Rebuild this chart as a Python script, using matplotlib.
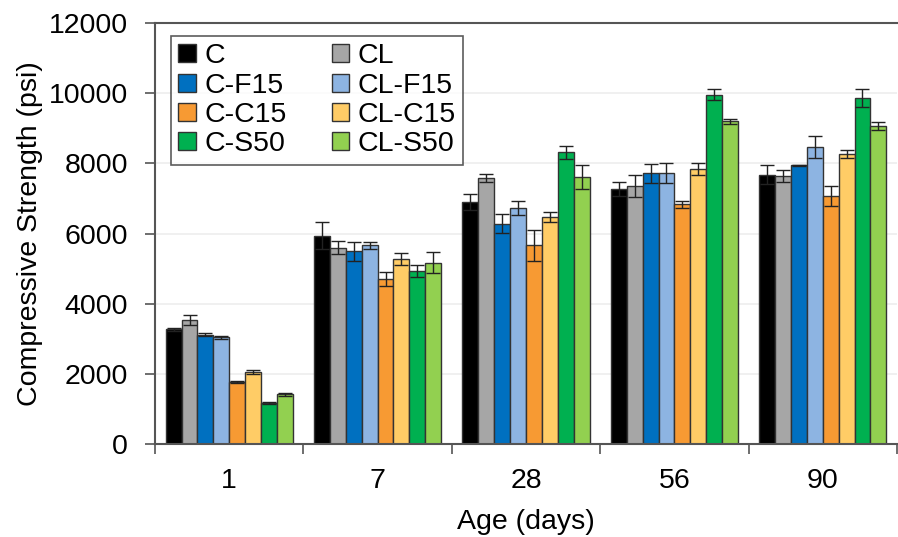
import matplotlib

matplotlib.use("Agg")
import matplotlib.pyplot as plt
import numpy as np

plt.rcParams["font.family"] = ["Liberation Sans", "DejaVu Sans"]

ages = ["1", "7", "28", "56", "90"]
mixes = ["C", "CL", "C-F15", "CL-F15", "C-C15", "CL-C15", "C-S50", "CL-S50"]
colors = ["#000000", "#A6A6A6", "#0070C0", "#8DB4E2",
          "#F79A33", "#FFCC66", "#00B050", "#92D050"]

# mean strength (psi) per mix, one value per age
strength = {
    "C":      [3270, 5940, 6900, 7270, 7680],
    "CL":     [3530, 5600, 7580, 7350, 7640],
    "C-F15":  [3120, 5500, 6280, 7720, 7940],
    "CL-F15": [3040, 5660, 6720, 7720, 8470],
    "C-C15":  [1770, 4690, 5660, 6840, 7070],
    "CL-C15": [2050, 5270, 6480, 7840, 8270],
    "C-S50":  [1170, 4940, 8310, 9960, 9860],
    "CL-S50": [1420, 5170, 7620, 9200, 9060],
}
# standard deviation (psi)
stdev = {
    "C":      [40, 380, 220, 190, 270],
    "CL":     [140, 180, 110, 310, 170],
    "C-F15":  [50, 270, 270, 270, 20],
    "CL-F15": [40, 110, 200, 285, 310],
    "C-C15":  [30, 200, 430, 100, 285],
    "CL-C15": [60, 170, 140, 180, 110],
    "C-S50":  [20, 170, 190, 150, 260],
    "CL-S50": [40, 310, 340, 76, 120],
}

FS = 20.5

fig = plt.figure(figsize=(8.98, 5.37), dpi=100)
ax = fig.add_axes([155 / 898, 93 / 537, 742 / 898, 421 / 537])

x = np.arange(len(ages))
n = len(mixes)
w = 0.107
handles = {}
for i, (m, c) in enumerate(zip(mixes, colors)):
    pos = x + (i - (n - 1) / 2) * w
    handles[m] = ax.bar(pos, strength[m], w, color=c, edgecolor="#333333",
                        linewidth=1.0, label=m, zorder=2)
    ax.errorbar(pos, strength[m], yerr=stdev[m], fmt="none", ecolor="#222222",
                elinewidth=1.0, capsize=5, capthick=1.0, zorder=3)

ax.set_xlim(-0.5, len(ages) - 0.5)
ax.set_ylim(0, 12000)
ax.set_yticks(np.arange(0, 12001, 2000))
ax.yaxis.grid(True, color="#EEEEEE", linewidth=1.2, zorder=0)
ax.set_axisbelow(True)

ax.set_xticks(np.arange(-0.5, len(ages), 1.0))
ax.set_xticklabels([])
ax.set_xticks(x, minor=True)
ax.set_xticklabels(ages, minor=True)
ax.tick_params(axis="x", which="major", direction="out", length=7,
               color="#555555", width=1.2)
ax.tick_params(axis="x", which="minor", length=0, labelsize=FS, pad=17)
ax.tick_params(axis="y", direction="out", length=7.5, color="#555555",
               width=1.2, labelsize=FS, pad=12)

for s in ("left", "bottom", "top"):
    ax.spines[s].set_color("#555555")
    ax.spines[s].set_linewidth(1.5)
ax.spines["right"].set_visible(False)

ax.set_ylabel("Compressive Strength (psi)", fontsize=FS, labelpad=4)
ax.set_xlabel("Age (days)", fontsize=FS, labelpad=11)

# legend reads row by row: plain mixes on the left, limestone mixes on the right
order = mixes[0::2] + mixes[1::2]
leg = ax.legend([handles[m] for m in order], order, ncol=2, loc="upper left",
                bbox_to_anchor=(0.022, 0.969), fontsize=FS, frameon=True,
                fancybox=False, edgecolor="#333333", handlelength=0.6,
                handleheight=0.6, handletextpad=0.3, columnspacing=1.6,
                labelspacing=0.12, borderpad=0.25, borderaxespad=0.0)
leg.get_frame().set_linewidth(1.2)

fig.savefig("out.png", dpi=100)
